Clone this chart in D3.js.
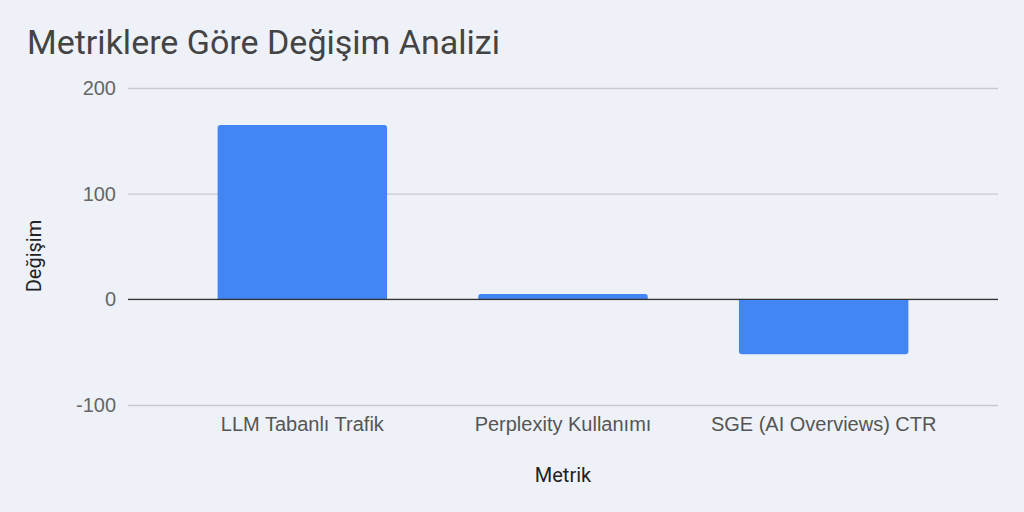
<!DOCTYPE html>
<html>
<head>
<meta charset="utf-8">
<script src="https://cdn.jsdelivr.net/npm/d3@7"></script>
<style>
  html, body { margin: 0; padding: 0; background: #eef2f8; }
  svg { display: block; font-family: Roboto, "Noto Sans", sans-serif; }
</style>
</head>
<body>
<div id="chart"></div>
<script>
// chart data
var categories = ['LLM Tabanlı Trafik', 'Perplexity Kullanımı', 'SGE (AI Overviews) CTR'];
var changes = [165, 5, -52];
var yTicks = [-100, 0, 100, 200];

var W = 1024, H = 512;
var plot = {left: 128, right: 998, top: 88, bottom: 405};

var svg = d3.select('#chart').append('svg')
  .attr('width', W).attr('height', H);

svg.append('rect').attr('width', W).attr('height', H).attr('fill', '#eef2f8');

var y = d3.scaleLinear().domain([-100, 200]).range([plot.bottom, plot.top]);
var x = d3.scaleBand().domain(categories).range([172, 954])
  .paddingInner(0.35).paddingOuter(0.175);

// gridlines + tick labels
var yAxis = d3.axisLeft(y).tickValues(yTicks)
  .tickFormat(function(d){ return String(d); })
  .tickSize(-(plot.right - plot.left)).tickPadding(12);
var gy = svg.append('g').attr('transform', 'translate(' + plot.left + ',0)').call(yAxis);
gy.select('.domain').remove();
gy.selectAll('.tick line').attr('stroke', '#c6c9ce').attr('stroke-width', 1.3);
gy.selectAll('.tick text').attr('fill', '#666').attr('font-size', 20).attr('x', -12);

// bars
var data = categories.map(function(c, i){ return {name: c, value: changes[i]}; });
svg.append('g').selectAll('path').data(data).enter().append('path')
  .attr('fill', '#4285f4')
  .attr('d', function(d){
    var x0 = x(d.name), w = x.bandwidth();
    var y0 = y(0), y1 = y(d.value);
    var r = Math.min(3, Math.abs(y1 - y0) / 2);
    if (d.value >= 0) {
      return 'M' + x0 + ',' + y0 + 'V' + (y1 + r) + 'Q' + x0 + ',' + y1 + ' ' + (x0 + r) + ',' + y1 +
        'H' + (x0 + w - r) + 'Q' + (x0 + w) + ',' + y1 + ' ' + (x0 + w) + ',' + (y1 + r) + 'V' + y0 + 'Z';
    }
    return 'M' + x0 + ',' + y0 + 'V' + (y1 - r) + 'Q' + x0 + ',' + y1 + ' ' + (x0 + r) + ',' + y1 +
      'H' + (x0 + w - r) + 'Q' + (x0 + w) + ',' + y1 + ' ' + (x0 + w) + ',' + (y1 - r) + 'V' + y0 + 'Z';
  });

// zero baseline
svg.append('line')
  .attr('x1', plot.left).attr('x2', plot.right)
  .attr('y1', y(0)).attr('y2', y(0))
  .attr('stroke', '#333').attr('stroke-width', 1.3);

// category labels
var xAxis = d3.axisBottom(x).tickSize(0).tickPadding(12);
var gx = svg.append('g').attr('transform', 'translate(0,' + plot.bottom + ')').call(xAxis);
gx.select('.domain').remove();
gx.selectAll('.tick text').attr('fill', '#555').attr('font-size', 20);

// titles
svg.append('text').attr('x', 27).attr('y', 54)
  .attr('font-size', 34).attr('fill', '#444')
  .text('Metriklere Göre Değişim Analizi');

svg.append('text').attr('x', 563).attr('y', 482)
  .attr('text-anchor', 'middle').attr('font-size', 20).attr('fill', '#222')
  .text('Metrik');

svg.append('text')
  .attr('transform', 'translate(41,256) rotate(-90)')
  .attr('text-anchor', 'middle').attr('font-size', 20).attr('fill', '#222')
  .text('Değişim');
</script>
</body>
</html>
